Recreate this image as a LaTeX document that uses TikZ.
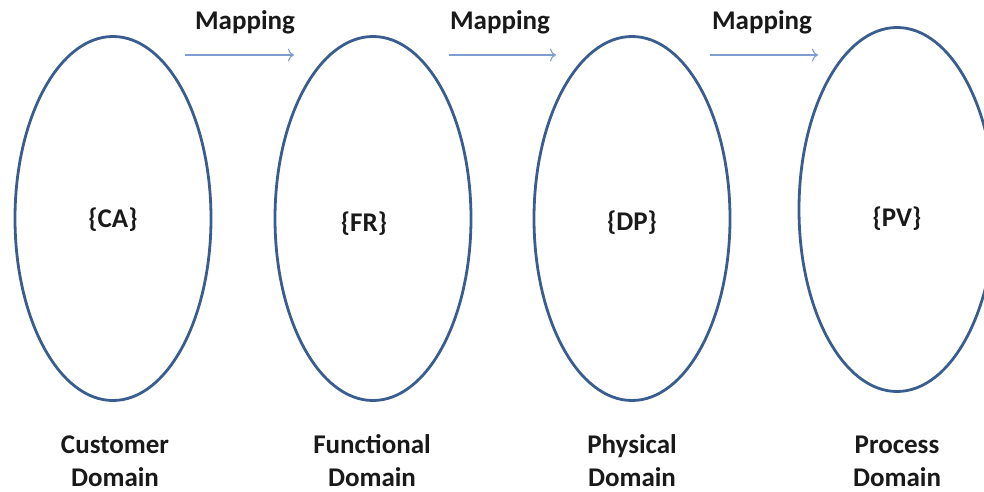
\documentclass[tikz,border=0pt]{standalone}
\usepackage{fontspec}
\setmainfont{Carlito}
\usetikzlibrary{shapes.geometric,arrows.meta}
\definecolor{domainblue}{HTML}{3A5D8F}
\definecolor{mapblue}{HTML}{7F9DD0}
\tikzset{
  domainshape/.style={draw=domainblue, line width=2.8bp, ellipse, inner sep=0pt,
    minimum width=196bp, minimum height=364bp},
  settext/.style={font=\bfseries\fontsize{27bp}{33bp}\selectfont, text=black!90,
    inner sep=0pt, align=center},
  maparrow/.style={draw=mapblue, line width=1.1bp, -{To[length=6bp,width=13bp]}},
}
\begin{document}
\begin{tikzpicture}[x=1bp,y=-1bp]
  \useasboundingbox (0,0) rectangle (984,492);
  \clip (0,0) rectangle (984,492);

  % the four design domains
  \node[domainshape] (ca) at (113,218.5) {};
  \node[domainshape] (fr) at (373,218.5) {};
  \node[domainshape] (dp) at (632,218.5) {};
  \node[domainshape] (pv) at (897,209.5) {};

  % characteristic vectors
  \node[settext] (tca) at (113,220) {\{CA\}};
  \node[settext] (tfr) at (364,224) {\{FR\}};
  \node[settext] (tdp) at (632,223) {\{DP\}};
  \node[settext] (tpv) at (897,219) {\{PV\}};

  % domain names
  \node[settext] (nca) at (115,461) {Customer\\Domain};
  \node[settext] (nfr) at (372,461) {Functional\\Domain};
  \node[settext] (ndp) at (632,461) {Physical\\Domain};
  \node[settext] (npv) at (897,461) {Process\\Domain};

  % mapping arrows between domains
  \coordinate (m1s) at (185,55);  \coordinate (m1e) at (294,55);
  \coordinate (m2s) at (449,55);  \coordinate (m2e) at (556,55);
  \coordinate (m3s) at (710,55);  \coordinate (m3e) at (818,55);
  \draw[maparrow] (m1s) -- (m1e);
  \draw[maparrow] (m2s) -- (m2e);
  \draw[maparrow] (m3s) -- (m3e);
  \node[settext] (l1) at (245,22) {Mapping};
  \node[settext] (l2) at (500,22) {Mapping};
  \node[settext] (l3) at (762,22) {Mapping};
\end{tikzpicture}
\end{document}
